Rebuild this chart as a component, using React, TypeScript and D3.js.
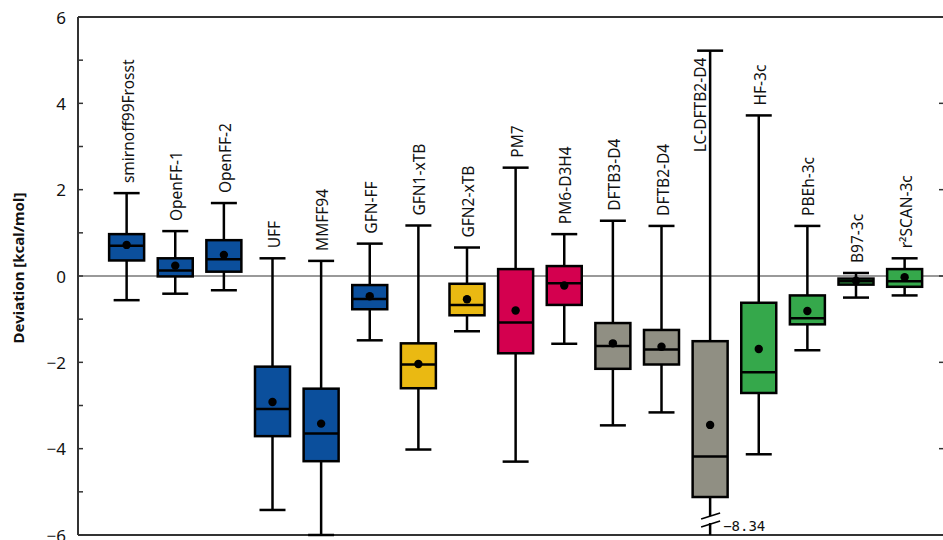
import React from "react";
import * as d3 from "d3";

const categories = [
  "smirnoff99Frosst", "OpenFF-1", "OpenFF-2", "UFF", "MMFF94", "GFN-FF",
  "GFN1-xTB", "GFN2-xTB", "PM7", "PM6-D3H4", "DFTB3-D4", "DFTB2-D4",
  "LC-DFTB2-D4", "HF-3c", "PBEh-3c", "B97-3c", "r²SCAN-3c",
];
const groups = [
  "ff", "ff", "ff", "ff", "ff", "ff", "xtb", "xtb", "se", "se",
  "dftb", "dftb", "dftb", "c3", "c3", "c3", "c3",
];
const whiskerHigh = [1.92, 1.04, 1.69, 0.41, 0.35, 0.75, 1.17, 0.66, 2.51, 0.97, 1.28, 1.16, 5.22, 3.72, 1.16, 0.07, 0.41];
const q3 = [0.97, 0.41, 0.83, -2.1, -2.61, -0.21, -1.56, -0.18, 0.16, 0.23, -1.09, -1.25, -1.51, -0.62, -0.45, -0.06, 0.16];
const medians = [0.7, 0.13, 0.39, -3.08, -3.65, -0.53, -2.05, -0.67, -1.08, -0.17, -1.62, -1.7, -4.18, -2.23, -0.98, -0.12, -0.12];
const means = [0.72, 0.24, 0.49, -2.92, -3.42, -0.47, -2.04, -0.54, -0.8, -0.22, -1.56, -1.64, -3.45, -1.69, -0.81, -0.11, -0.03];
const q1 = [0.36, -0.01, 0.1, -3.71, -4.29, -0.77, -2.6, -0.91, -1.79, -0.67, -2.15, -2.05, -5.12, -2.71, -1.12, -0.2, -0.25];
const whiskerLow = [-0.56, -0.41, -0.33, -5.42, -6.0, -1.49, -4.02, -1.28, -4.3, -1.57, -3.46, -3.16, -8.34, -4.13, -1.72, -0.5, -0.45];
const majorTicks = [-6, -4, -2, 0, 2, 4, 6];
const minorTicks = [-5, -3, -1, 1, 3, 5];

const colors: Record<string, string> = {
  ff: "#0b4f9c",
  xtb: "#eab912",
  se: "#d4004f",
  dftb: "#908f83",
  c3: "#35a84b",
};

export default function App() {
  const W = 943, H = 540;
  const left = 78, top = 17, bottom = 535;
  const x = d3.scaleLinear().domain([0, 18]).range([left, 953.25]);
  const y = d3.scaleLinear().domain([-6, 6]).range([bottom, top]);
  const boxW = 35, capW = 26;
  const rightAxis = 944;
  const labelSize = 15.5;
  const fmt = (v: number) => (v < 0 ? "\u2212" + Math.abs(v) : String(v));

  return (
    <svg width={W} height={H} style={{ position: "absolute", left: 0, top: 0 }}
      fontFamily="'Noto Sans', sans-serif">
      <rect x={0} y={0} width={W} height={H} fill="#fff" />
      <line x1={left} x2={W} y1={y(0)} y2={y(0)} stroke="#777" strokeWidth={1.5} />
      <line x1={left} x2={rightAxis} y1={top} y2={top} stroke="#333" strokeWidth={2} />
      <line x1={left} x2={rightAxis} y1={bottom} y2={bottom} stroke="#333" strokeWidth={2} />
      <line x1={left} x2={left} y1={top} y2={bottom} stroke="#333" strokeWidth={2} />
      {majorTicks.concat(minorTicks).map((t) => (
        <line key={"lt" + t} x1={left} x2={left + 5} y1={y(t)} y2={y(t)} stroke="#333" strokeWidth={1.5} />
      ))}
      {majorTicks.map((t) => (
        <line key={"rt" + t} x1={rightAxis - 5} x2={rightAxis} y1={y(t)} y2={y(t)} stroke="#333" strokeWidth={1.5} />
      ))}
      {majorTicks.map((t) => (
        <text key={"tl" + t} x={66} y={y(t)} textAnchor="end" dominantBaseline="central"
          fontSize={17} fill="#111">{fmt(t)}</text>
      ))}
      <text transform={`translate(18,${y(0) - 8}) rotate(-90)`} textAnchor="middle"
        dominantBaseline="central" fontSize={15} fontWeight="bold" fill="#111">
        Deviation [kcal/mol]
      </text>
      {categories.map((c, i) => {
        const cx = x(i + 1);
        const col = colors[groups[i]];
        const lowClipped = whiskerLow[i] < -6;
        const yLow = lowClipped ? bottom : y(whiskerLow[i]);
        const yHigh = y(whiskerHigh[i]);
        const approxLen = c.length * labelSize * 0.55;
        const overflow = yHigh - 9 - approxLen < top + 20;
        return (
          <g key={c}>
            <line x1={cx} x2={cx} y1={yHigh} y2={y(q3[i])} stroke="#000" strokeWidth={2.5} />
            <line x1={cx - capW / 2} x2={cx + capW / 2} y1={yHigh} y2={yHigh} stroke="#000" strokeWidth={2.5} />
            {lowClipped ? (
              <g>
                <line x1={cx} x2={cx} y1={y(q1[i])} y2={516} stroke="#000" strokeWidth={2.5} />
                <line x1={cx} x2={cx} y1={523} y2={yLow} stroke="#000" strokeWidth={2.5} />
                <line x1={cx - 9} x2={cx + 10} y1={519} y2={513} stroke="#000" strokeWidth={1.5} />
                <line x1={cx - 9} x2={cx + 10} y1={527} y2={521} stroke="#000" strokeWidth={1.5} />
                <text x={cx + 13} y={526} dominantBaseline="central" fontSize={14}
                  fontFamily="'DejaVu Sans Mono', monospace" fill="#111">
                  {"\u2212" + Math.abs(whiskerLow[i]).toFixed(2)}
                </text>
              </g>
            ) : (
              <g>
                <line x1={cx} x2={cx} y1={y(q1[i])} y2={yLow} stroke="#000" strokeWidth={2.5} />
                <line x1={cx - capW / 2} x2={cx + capW / 2} y1={yLow} y2={yLow} stroke="#000" strokeWidth={2.5} />
              </g>
            )}
            <rect x={cx - boxW / 2} y={y(q3[i])} width={boxW} height={y(q1[i]) - y(q3[i])}
              fill={col} stroke="#000" strokeWidth={2.5} />
            <line x1={cx - boxW / 2} x2={cx + boxW / 2} y1={y(medians[i])} y2={y(medians[i])} stroke="#000" strokeWidth={2.5} />
            <circle cx={cx} cy={y(means[i])} r={4.2} fill="#000" />
            {overflow ? (
              <text transform={`translate(${cx - 10},${yHigh + 7}) rotate(-90)`}
                textAnchor="end" dominantBaseline="central" fontSize={labelSize} fill="#111">
                {c}
              </text>
            ) : (
              <text transform={`translate(${cx + 1},${yHigh - 10}) rotate(-90)`}
                textAnchor="start" dominantBaseline="central" fontSize={labelSize} fill="#111">
                {c}
              </text>
            )}
          </g>
        );
      })}
    </svg>
  );
}
